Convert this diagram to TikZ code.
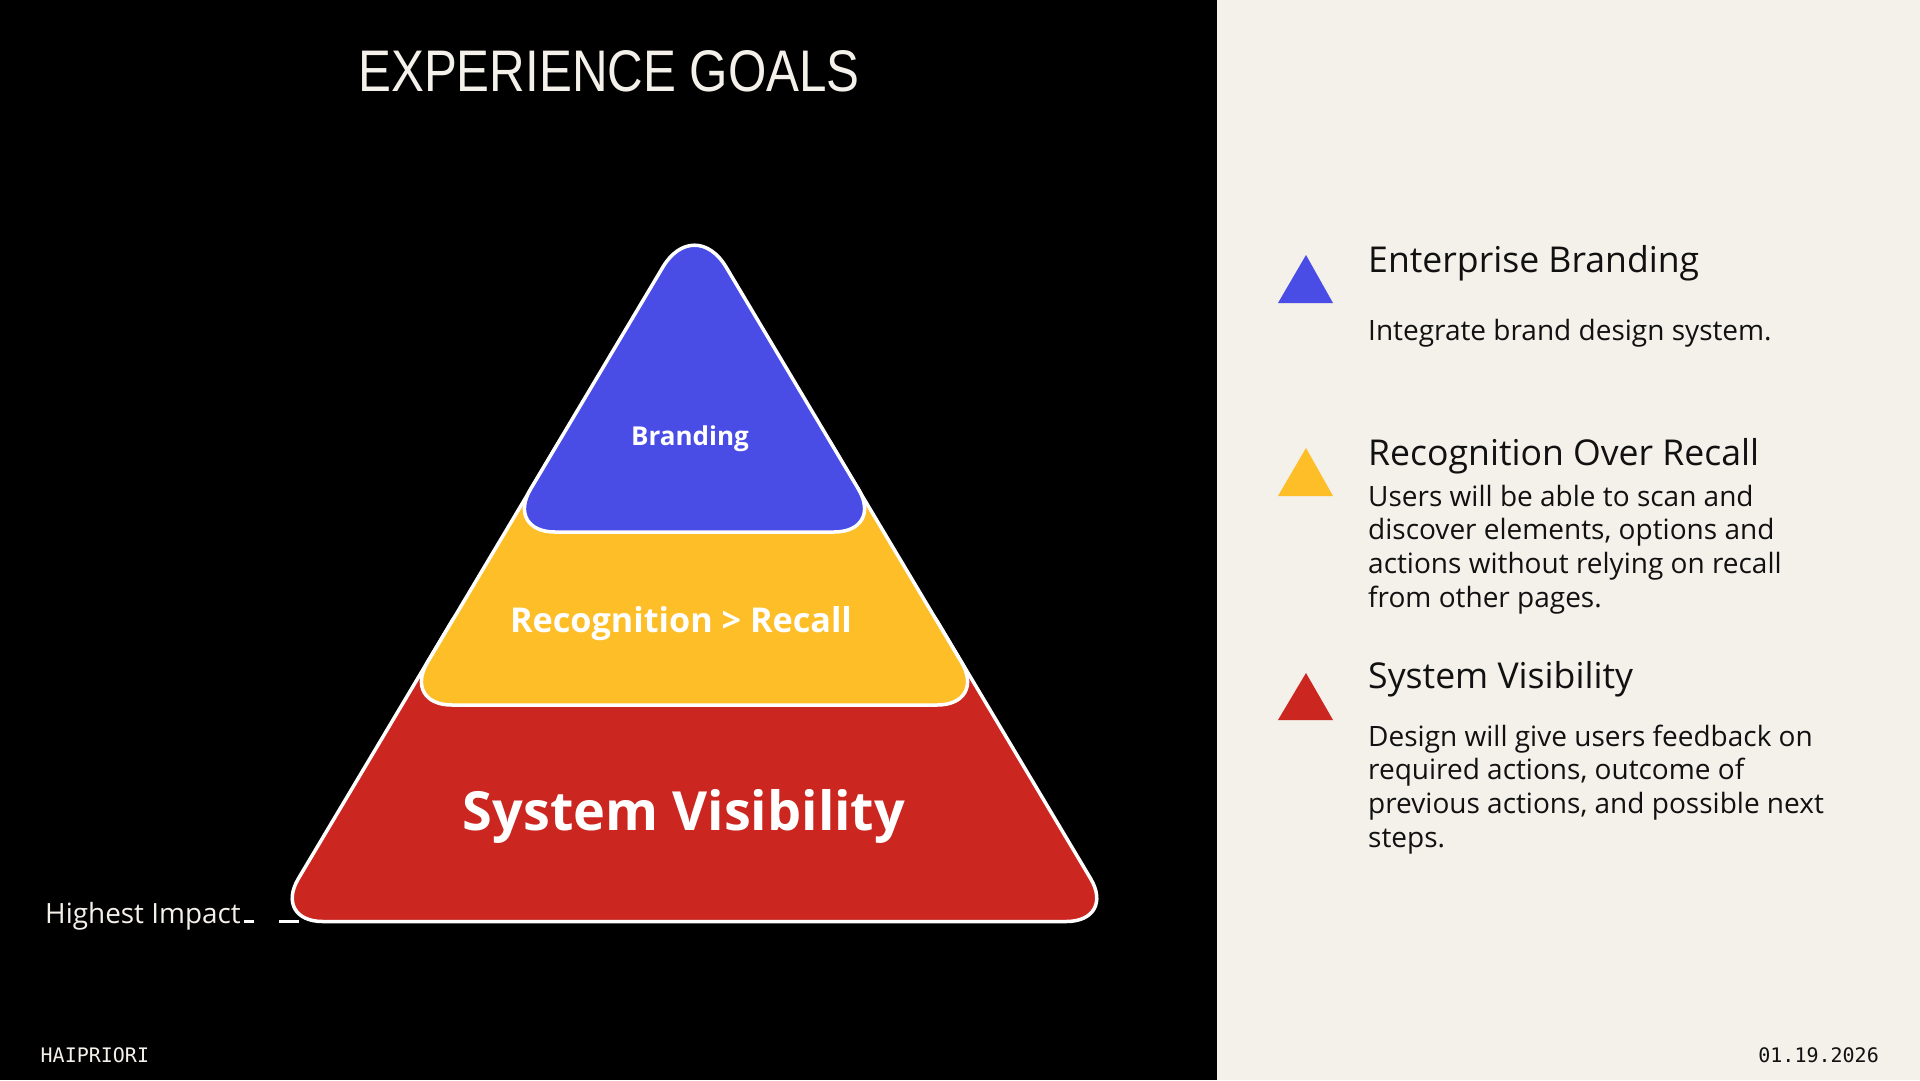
\documentclass[tikz,border=0pt]{standalone}
\usepackage{fontspec}
\usepackage{graphicx}
\setmainfont{Open Sans}
\newfontfamily\titlefont{Liberation Sans}
\newfontfamily\monofont{DejaVu Sans Mono}
\definecolor{bluec}{HTML}{4A4CE6}
\definecolor{yellowc}{HTML}{FDBE27}
\definecolor{redc}{HTML}{CB2620}
\definecolor{beige}{HTML}{F4F0EA}
\definecolor{ink}{HTML}{111111}
\begin{document}
\begin{tikzpicture}[x=1pt,y=-1pt,
  layer/.style={draw=white, line width=3.5pt, line join=round, rounded corners=50pt},
  lbl/.style={text=white, inner sep=0pt, anchor=base},
  hd/.style={text=ink, inner sep=0pt, anchor=base west, font=\fontsize{35.6}{42}\selectfont},
  bd/.style={text=ink, inner sep=0pt, anchor=base west, font=\fontsize{28}{33.7}\selectfont},
  mono/.style={text=#1, inner sep=0pt, font=\monofont\fontsize{20}{24}\selectfont},
  icon/.style={fill=#1, draw=none}
]
\useasboundingbox (0,0) rectangle (1920,1080);
\fill[black] (0,0) rectangle (1217,1080);
\fill[beige] (1217,0) rectangle (1920,1080);

% title
\node[text=beige, inner sep=0pt, anchor=base, font=\titlefont\fontsize{58.7}{60}\selectfont] (title) at (609,91) {\scalebox{0.84}[1]{EXPERIENCE GOALS}};

% pyramid layers (sharp apex at (694.5,214), side slope 0.596)
\path[layer, fill=redc] (694.5,921.5) -- (1116.2,921.5) -- (912.6,580) -- (476.4,580) -- (272.8,921.5) -- cycle;
\path[layer, fill=yellowc] (694.5,705) -- (987,705) -- (805,400) -- (584,400) -- (402,705) -- cycle;
\path[layer, fill=bluec] (694.5,532) -- (884,532) [rounded corners=62pt] -- (694.5,214) [rounded corners=50pt] -- (505,532) -- cycle;

\node[lbl, font=\bfseries\fontsize{26}{30}\selectfont] (brand) at (690,445) {Branding};
\node[lbl, font=\bfseries\fontsize{34.2}{38}\selectfont] (recog) at (681,632) {Recognition > Recall};
\node[lbl, font=\bfseries\fontsize{54}{60}\selectfont] (sysvis) at (684,830.5) {System Visibility};

% highest impact
\node[text=beige, inner sep=0pt, anchor=base west, font=\fontsize{27.9}{32}\selectfont] (hi) at (45,923) {Highest Impact};
\coordinate (impend) at (299,921.5);
\draw[white, line width=3pt, dash pattern=on 10pt off 25pt on 20pt off 10pt] ([xshift=3pt,yshift=1.5pt]hi.base east) -- (impend);

% footer
\node[mono=beige, anchor=base west] (brandname) at (40.5,1062) {HAIPRIORI};
\node[mono=ink, anchor=base east] (date) at (1879,1062) {01.19.2026};

% legend
\fill[icon=bluec] (1278,303) -- (1306,255) -- (1333,303) -- cycle;
\fill[icon=yellowc] (1278,496) -- (1306,448) -- (1333,496) -- cycle;
\fill[icon=redc] (1278,720) -- (1306,673) -- (1333,720) -- cycle;

\node[hd] (h1) at (1368,272.6) {Enterprise Branding};
\node[bd] (b1) at (1368,340) {\parbox[t]{520pt}{\raggedright Integrate brand design system.}};

\node[hd] (h2) at (1368,465) {Recognition Over Recall};
\node[bd] (b2) at (1368,506) {\parbox[t]{520pt}{\raggedright Users will be able to scan and\\discover elements, options and\\actions without relying on recall\\from other pages.}};

\node[hd] (h3) at (1368,688.4) {System Visibility};
\node[bd] (b3) at (1368,746) {\parbox[t]{520pt}{\raggedright Design will give users feedback on\\required actions, outcome of\\previous actions, and possible next\\steps.}};
\end{tikzpicture}
\end{document}
